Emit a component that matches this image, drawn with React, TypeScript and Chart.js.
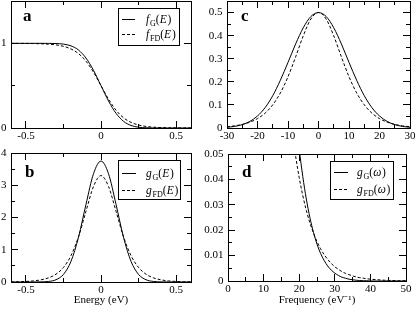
import React, { useEffect, useRef } from "react";
import { Chart, registerables } from "chart.js";

Chart.register(...registerables);

const FONT = '"Liberation Serif", "Times New Roman", serif';

// ---- Data ----
const energy = [-0.6, -0.55, -0.5, -0.45, -0.4, -0.35, -0.3, -0.25, -0.2, -0.15, -0.1, -0.05, 0, 0.05, 0.1, 0.15, 0.2, 0.25, 0.3, 0.35, 0.4, 0.45, 0.5, 0.55, 0.6];
const fG = [1.0, 1.0, 1.0, 1.0, 0.9999, 0.9995, 0.9976, 0.9906, 0.97, 0.921, 0.826, 0.681, 0.5, 0.319, 0.174, 0.079, 0.03, 0.0094, 0.0024, 0.0005, 0.0001, 0, 0, 0, 0];
const fFD = [0.9996, 0.9993, 0.9986, 0.9974, 0.9949, 0.9902, 0.9813, 0.9644, 0.9334, 0.879, 0.789, 0.659, 0.5, 0.341, 0.211, 0.121, 0.0666, 0.0356, 0.0187, 0.0098, 0.0051, 0.0026, 0.0014, 0.0007, 0.0004];
const gG = [0, 0, 0, 0.0005, 0.0032, 0.0168, 0.0704, 0.237, 0.641, 1.388, 2.411, 3.358, 3.75, 3.358, 2.411, 1.388, 0.641, 0.237, 0.0704, 0.0168, 0.0032, 0.0005, 0, 0, 0];
const gFD = [0.0048, 0.0092, 0.0178, 0.0343, 0.0674, 0.128, 0.242, 0.453, 0.82, 1.403, 2.196, 2.964, 3.3, 2.964, 2.196, 1.403, 0.82, 0.453, 0.242, 0.128, 0.0674, 0.0343, 0.0178, 0.0092, 0.0048];

const freqC = [-30, -27.5, -25, -22.5, -20, -17.5, -15, -12.5, -10, -7.5, -5, -2.5, 0, 2.5, 5, 7.5, 10, 12.5, 15, 17.5, 20, 22.5, 25, 27.5, 30];
const gGw = [0.0031, 0.0069, 0.0146, 0.0285, 0.052, 0.0884, 0.14, 0.207, 0.284, 0.364, 0.434, 0.483, 0.5, 0.483, 0.434, 0.364, 0.284, 0.207, 0.14, 0.0884, 0.052, 0.0285, 0.0146, 0.0069, 0.0031];
const gFDw = [0.0056, 0.0094, 0.0155, 0.0253, 0.0407, 0.0646, 0.1005, 0.152, 0.222, 0.308, 0.399, 0.472, 0.5, 0.472, 0.399, 0.308, 0.222, 0.152, 0.1005, 0.0646, 0.0407, 0.0253, 0.0155, 0.0094, 0.0056];

const freqD = [17, 18, 19, 20, 21, 22, 23, 24, 25, 26, 27, 28, 29, 30, 31, 32, 33, 34, 35, 36, 37, 38, 39, 40, 42, 44, 46, 48, 50];
const gGwTail = [0.0974, 0.0799, 0.0648, 0.052, 0.0412, 0.0323, 0.025, 0.0192, 0.0145, 0.0109, 0.0081, 0.0059, 0.0043, 0.0031, 0.0022, 0.0015, 0.0011, 0.0007, 0.0005, 0.0003, 0.0002, 0.0001, 0.0001, 0, 0, 0, 0, 0, 0];
const gFDwTail = [0.0707, 0.059, 0.0491, 0.0407, 0.0337, 0.0278, 0.0229, 0.0189, 0.0155, 0.0127, 0.0104, 0.0085, 0.0069, 0.0056, 0.0046, 0.0037, 0.003, 0.0025, 0.002, 0.0016, 0.0013, 0.0011, 0.0009, 0.0007, 0.0005, 0.0003, 0.0002, 0.0001, 0.0001];

const energyTitle = "Energy (eV)";
const freqTitle = "Frequency (eV\u207B\u00B9)";

type Part = { t: string; i?: boolean; sub?: boolean };
const legendFG: Part[] = [{ t: "f", i: true }, { t: "G", sub: true }, { t: "(" }, { t: "E", i: true }, { t: ")" }];
const legendFFD: Part[] = [{ t: "f", i: true }, { t: "FD", sub: true }, { t: "(" }, { t: "E", i: true }, { t: ")" }];
const legendGG: Part[] = [{ t: "g", i: true }, { t: "G", sub: true }, { t: "(" }, { t: "E", i: true }, { t: ")" }];
const legendGFD: Part[] = [{ t: "g", i: true }, { t: "FD", sub: true }, { t: "(" }, { t: "E", i: true }, { t: ")" }];
const legendGGw: Part[] = [{ t: "g", i: true }, { t: "G", sub: true }, { t: "(" }, { t: "\u03C9", i: true }, { t: ")" }];
const legendGFDw: Part[] = [{ t: "g", i: true }, { t: "FD", sub: true }, { t: "(" }, { t: "\u03C9", i: true }, { t: ")" }];

const W = 415;
const H = 313;

type Range = { min: number; max: number; major: number; minor: number };
type Legend = { box: [number, number, number, number]; rows: [number, number]; line: [number, number]; textX: number; entries: [Part[], Part[]] };
type Panel = {
  plot: { left: number; top: number; right: number; bottom: number };
  x: Range;
  y: Range;
  xs: number[];
  solid: number[];
  dashed: number[];
  title?: string;
  letter: { t: string; x: number; y: number };
  legend?: Legend;
};

const panels: Panel[] = [
  {
    plot: { left: 11, top: 1, right: 191, bottom: 128 },
    x: { min: -0.6, max: 0.6, major: 0.5, minor: 0.25 },
    y: { min: 0, max: 1.5, major: 1, minor: 0.5 },
    xs: energy, solid: fG, dashed: fFD,
    letter: { t: "a", x: 23, y: 21 },
    legend: { box: [118, 8, 179, 45], rows: [19, 34], line: [122, 135], textX: 146, entries: [legendFG, legendFFD] },
  },
  {
    plot: { left: 11, top: 153, right: 191, bottom: 282 },
    x: { min: -0.6, max: 0.6, major: 0.5, minor: 0.25 },
    y: { min: 0, max: 4, major: 1, minor: 0.5 },
    xs: energy, solid: gG, dashed: gFD,
    title: energyTitle,
    letter: { t: "b", x: 25, y: 177 },
    legend: { box: [118, 160, 180, 199], rows: [173, 190], line: [122, 136], textX: 146, entries: [legendGG, legendGFD] },
  },
  {
    plot: { left: 227, top: 1, right: 410, bottom: 128 },
    x: { min: -30, max: 30, major: 10, minor: 5 },
    y: { min: 0, max: 0.55, major: 0.1, minor: 0.05 },
    xs: freqC, solid: gGw, dashed: gFDw,
    letter: { t: "c", x: 241, y: 21 },
  },
  {
    plot: { left: 228, top: 154, right: 406, bottom: 281 },
    x: { min: 0, max: 50, major: 10, minor: 5 },
    y: { min: 0, max: 0.05, major: 0.01, minor: 0.005 },
    xs: freqD, solid: gGwTail, dashed: gFDwTail,
    title: freqTitle,
    letter: { t: "d", x: 242, y: 177 },
    legend: { box: [330, 161, 393, 199], rows: [172, 189], line: [334, 348], textX: 357, entries: [legendGGw, legendGFDw] },
  },
];

function axis(position: string, r: Range, step: number, tickLen: number, labels: boolean, size: number, weight: number, title?: string) {
  const horizontal = position === "top" || position === "bottom";
  return {
    type: "linear",
    position,
    min: r.min,
    max: r.max,
    weight,
    ticks: {
      display: labels,
      stepSize: step,
      includeBounds: false,
      autoSkip: false,
      maxRotation: 0,
      minRotation: 0,
      padding: horizontal ? 9 : 11.5,
      color: "#000",
      font: { family: FONT, size: 11 },
    },
    grid: {
      display: true,
      drawOnChartArea: false,
      drawTicks: true,
      tickLength: -tickLen,
      color: "#000",
      tickColor: "#000",
      lineWidth: 1,
      tickWidth: 1,
    },
    border: { display: true, color: "#000", width: 1 },
    title: title
      ? { display: true, text: title, color: "#000", font: { family: FONT, size: 11 }, padding: { top: 0, bottom: 6 } }
      : { display: false },
    afterFit: (s: any) => {
      if (horizontal) s.height = size;
      else s.width = size;
      s.paddingLeft = 0;
      s.paddingRight = 0;
      s.paddingTop = 0;
      s.paddingBottom = 0;
    },
  };
}

function drawRich(ctx: CanvasRenderingContext2D, x: number, y: number, parts: Part[], size: number) {
  let cx = x;
  ctx.textBaseline = "alphabetic";
  ctx.textAlign = "left";
  for (const p of parts) {
    const fs = p.sub ? size * 0.7 : size;
    ctx.font = `${p.i ? "italic " : ""}${fs}px ${FONT}`;
    ctx.fillText(p.t, cx, p.sub ? y + size * 0.28 : y);
    cx += ctx.measureText(p.t).width + (p.i ? 0.8 : 0);
  }
}

function overlay(p: Panel) {
  return {
    id: "overlay",
    afterDraw(chart: any) {
      const ctx: CanvasRenderingContext2D = chart.ctx;
      ctx.save();
      ctx.fillStyle = "#000";
      ctx.strokeStyle = "#000";
      ctx.font = `bold 17px ${FONT}`;
      ctx.textBaseline = "alphabetic";
      ctx.textAlign = "left";
      ctx.fillText(p.letter.t, p.letter.x, p.letter.y);
      if (p.legend) {
        const L = p.legend;
        ctx.lineWidth = 1;
        ctx.setLineDash([]);
        ctx.strokeRect(L.box[0] + 0.5, L.box[1] + 0.5, L.box[2] - L.box[0], L.box[3] - L.box[1]);
        L.rows.forEach((ry, i) => {
          ctx.beginPath();
          ctx.setLineDash(i === 0 ? [] : [3, 2]);
          ctx.moveTo(L.line[0], ry + 0.5);
          ctx.lineTo(L.line[1], ry + 0.5);
          ctx.stroke();
          ctx.setLineDash([]);
          drawRich(ctx, L.textX, ry + 4, L.entries[i], 11.5);
        });
      }
      ctx.restore();
    },
  };
}

function buildConfig(p: Panel): any {
  const xH = H - p.plot.bottom;
  const yW = p.plot.left;
  const scales: any = {
    x: axis("bottom", p.x, p.x.major, 7, true, xH, 1, p.title),
    xMinor: axis("bottom", p.x, p.x.minor, 4, false, 0, 0),
    xTop: axis("top", p.x, p.x.major, 7, false, 0, 1),
    xTopMinor: axis("top", p.x, p.x.minor, 4, false, 0, 0),
    y: axis("left", p.y, p.y.major, 7, true, yW, 1),
    yMinor: axis("left", p.y, p.y.minor, 4, false, 0, 0),
    yRight: axis("right", p.y, p.y.major, 7, false, 0, 1),
    yRightMinor: axis("right", p.y, p.y.minor, 4, false, 0, 0),
  };
  const mk = (ys: number[], dash: number[]) => ({
    data: p.xs.map((x, i) => ({ x, y: ys[i] })),
    borderColor: "#000",
    borderWidth: 1,
    borderDash: dash,
    pointRadius: 0,
    fill: false,
    cubicInterpolationMode: "monotone",
    xAxisID: "x",
    yAxisID: "y",
  });
  return {
    type: "line",
    data: { datasets: [mk(p.solid, []), mk(p.dashed, [3, 2])] },
    options: {
      responsive: false,
      animation: false,
      events: [],
      layout: { padding: { left: 0, top: p.plot.top, right: W - p.plot.right, bottom: 0 } },
      plugins: { legend: { display: false }, tooltip: { enabled: false }, title: { display: false } },
      scales,
    },
    plugins: [overlay(p)],
  };
}

export default function App() {
  const r0 = useRef<HTMLCanvasElement>(null);
  const r1 = useRef<HTMLCanvasElement>(null);
  const r2 = useRef<HTMLCanvasElement>(null);
  const r3 = useRef<HTMLCanvasElement>(null);
  const refs = [r0, r1, r2, r3];

  useEffect(() => {
    const charts = panels.map((p, i) => new Chart(refs[i].current as HTMLCanvasElement, buildConfig(p)));
    return () => charts.forEach((c) => c.destroy());
  }, []);

  return (
    <div style={{ position: "absolute", left: 0, top: 0, width: W, height: H, background: "#fff" }}>
      {refs.map((r, i) => (
        <canvas key={i} ref={r} width={W} height={H} style={{ position: "absolute", left: 0, top: 0, width: W, height: H }} />
      ))}
    </div>
  );
}
